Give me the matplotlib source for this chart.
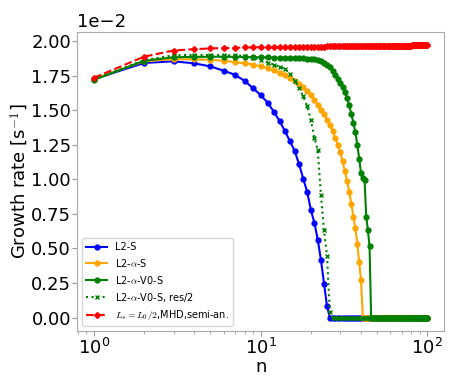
import matplotlib
matplotlib.use("Agg")
import matplotlib.pyplot as plt
from matplotlib.ticker import MultipleLocator

plt.rcParams['mathtext.fontset'] = 'cm'

n = list(range(1, 101))

# growth rates in units of 1e-2 s^-1
l2_s = [1.725, 1.842, 1.854, 1.839, 1.817, 1.786, 1.757, 1.713, 1.659, 1.610,
        1.555, 1.489, 1.421, 1.348, 1.275, 1.205, 1.110, 1.005, 0.910, 0.780,
        0.686, 0.564, 0.416, 0.246, 0.083, 0.0, 0.0, 0.0, 0.0, 0.0,
        0.0, 0.0, 0.0, 0.0, 0.0, 0.0, 0.0, 0.0, 0.0, 0.0,
        0.0, 0.0, 0.0, 0.0, 0.0, 0.0, 0.0, 0.0, 0.0, 0.0,
        0.0, 0.0, 0.0, 0.0, 0.0, 0.0, 0.0, 0.0, 0.0, 0.0,
        0.0, 0.0, 0.0, 0.0, 0.0, 0.0, 0.0, 0.0, 0.0, 0.0,
        0.0, 0.0, 0.0, 0.0, 0.0, 0.0, 0.0, 0.0, 0.0, 0.0,
        0.0, 0.0, 0.0, 0.0, 0.0, 0.0, 0.0, 0.0, 0.0, 0.0,
        0.0, 0.0, 0.0, 0.0, 0.0, 0.0, 0.0, 0.0, 0.0, 0.0]

l2_alpha_s = [1.725, 1.855, 1.869, 1.868, 1.865, 1.858, 1.848, 1.840, 1.830, 1.818,
              1.803, 1.788, 1.770, 1.752, 1.732, 1.712, 1.690, 1.665, 1.640, 1.610,
              1.575, 1.540, 1.505, 1.470, 1.430, 1.390, 1.350, 1.300, 1.250, 1.200,
              1.130, 1.060, 0.985, 0.910, 0.820, 0.730, 0.645, 0.535, 0.400, 0.270,
              0.0, 0.0, 0.0, 0.0, 0.0, 0.0, 0.0, 0.0, 0.0, 0.0,
              0.0, 0.0, 0.0, 0.0, 0.0, 0.0, 0.0, 0.0, 0.0, 0.0,
              0.0, 0.0, 0.0, 0.0, 0.0, 0.0, 0.0, 0.0, 0.0, 0.0,
              0.0, 0.0, 0.0, 0.0, 0.0, 0.0, 0.0, 0.0, 0.0, 0.0,
              0.0, 0.0, 0.0, 0.0, 0.0, 0.0, 0.0, 0.0, 0.0, 0.0,
              0.0, 0.0, 0.0, 0.0, 0.0, 0.0, 0.0, 0.0, 0.0, 0.0]

l2_alpha_v0_s = [1.720, 1.858, 1.883, 1.886, 1.887, 1.887, 1.886, 1.885, 1.884, 1.883,
                 1.882, 1.881, 1.880, 1.879, 1.878, 1.877, 1.876, 1.875, 1.874, 1.872,
                 1.868, 1.862, 1.855, 1.845, 1.830, 1.810, 1.785, 1.755, 1.725, 1.700,
                 1.670, 1.630, 1.585, 1.535, 1.470, 1.410, 1.340, 1.250, 1.150, 1.044,
                 1.012, 0.995, 0.728, 0.630, 0.516, 0.0, 0.0, 0.0, 0.0, 0.0,
                 0.0, 0.0, 0.0, 0.0, 0.0, 0.0, 0.0, 0.0, 0.0, 0.0,
                 0.0, 0.0, 0.0, 0.0, 0.0, 0.0, 0.0, 0.0, 0.0, 0.0,
                 0.0, 0.0, 0.0, 0.0, 0.0, 0.0, 0.0, 0.0, 0.0, 0.0,
                 0.0, 0.0, 0.0, 0.0, 0.0, 0.0, 0.0, 0.0, 0.0, 0.0,
                 0.0, 0.0, 0.0, 0.0, 0.0, 0.0, 0.0, 0.0, 0.0, 0.0]

l2_alpha_v0_s_half = [1.725, 1.862, 1.898, 1.900, 1.900, 1.898, 1.897, 1.893, 1.880, 1.862,
                      1.845, 1.830, 1.815, 1.800, 1.765, 1.715, 1.660, 1.600, 1.530, 1.430,
                      1.300, 1.210, 0.885, 0.630, 0.447, 0.040, 0.0, 0.0, 0.0, 0.0,
                      0.0, 0.0, 0.0, 0.0, 0.0, 0.0, 0.0, 0.0, 0.0, 0.0,
                      0.0, 0.0, 0.0, 0.0, 0.0, 0.0, 0.0, 0.0, 0.0, 0.0,
                      0.0, 0.0, 0.0, 0.0, 0.0, 0.0, 0.0, 0.0, 0.0, 0.0,
                      0.0, 0.0, 0.0, 0.0, 0.0, 0.0, 0.0, 0.0, 0.0, 0.0,
                      0.0, 0.0, 0.0, 0.0, 0.0, 0.0, 0.0, 0.0, 0.0, 0.0,
                      0.0, 0.0, 0.0, 0.0, 0.0, 0.0, 0.0, 0.0, 0.0, 0.0,
                      0.0, 0.0, 0.0, 0.0, 0.0, 0.0, 0.0, 0.0, 0.0, 0.0]

mhd_semi_an = [1.735, 1.888, 1.932, 1.942, 1.947, 1.950, 1.952, 1.954, 1.955, 1.956,
               1.957, 1.957, 1.958, 1.958, 1.959, 1.959, 1.959, 1.960, 1.960, 1.960,
               1.961, 1.961, 1.961, 1.961, 1.962, 1.962, 1.962, 1.962, 1.962, 1.963,
               1.963, 1.963, 1.963, 1.963, 1.964, 1.964, 1.964, 1.964, 1.964, 1.964,
               1.965, 1.965, 1.965, 1.965, 1.965, 1.965, 1.965, 1.966, 1.966, 1.966,
               1.966, 1.966, 1.966, 1.966, 1.966, 1.966, 1.967, 1.967, 1.967, 1.967,
               1.967, 1.967, 1.967, 1.967, 1.967, 1.967, 1.967, 1.968, 1.968, 1.968,
               1.968, 1.968, 1.968, 1.968, 1.968, 1.968, 1.968, 1.968, 1.968, 1.968,
               1.969, 1.969, 1.969, 1.969, 1.969, 1.969, 1.969, 1.969, 1.969, 1.969,
               1.969, 1.969, 1.969, 1.970, 1.970, 1.970, 1.970, 1.970, 1.970, 1.970]

scale = 1e-2

fig = plt.figure(figsize=(4.63, 3.86), dpi=100)
ax = fig.add_axes([0.167, 0.142, 0.792, 0.776])

ax.plot(n, [v * scale for v in l2_s], '-o', color='blue', lw=1.5, ms=3.5, label='L2-S')
ax.plot(n, [v * scale for v in l2_alpha_s], '-o', color='orange', lw=1.5, ms=3.5,
        label=r'L2-$\alpha$-S')
ax.plot(n, [v * scale for v in l2_alpha_v0_s], '-o', color='green', lw=1.5, ms=3.5,
        label=r'L2-$\alpha$-V0-S')
ax.plot(n, [v * scale for v in l2_alpha_v0_s_half], ':x', color='green', lw=1.5, ms=3.5,
        label=r'L2-$\alpha$-V0-S, res/2')
ax.plot(n, [v * scale for v in mhd_semi_an], '--D', color='red', lw=1.5, ms=3,
        label=r'$L_s=L_0/2$,MHD,semi-an.')

ax.set_xscale('log')
ax.yaxis.set_major_locator(MultipleLocator(0.25 * scale))
ax.ticklabel_format(axis='y', style='sci', scilimits=(0, 0))
ax.yaxis.get_offset_text().set_fontsize(13)
ax.set_xlabel('n', fontsize=13, labelpad=0)
ax.set_ylabel(r'Growth rate [s$^{-1}$]', fontsize=13, labelpad=0)
ax.tick_params(labelsize=13, color='#999999', pad=1)
ax.tick_params(which='minor', color='#999999')
for s in ax.spines.values():
    s.set_color('#aaaaaa')

ax.legend(loc='lower left', fontsize=7, handlelength=2.2)

fig.savefig('out.png', dpi=100)
